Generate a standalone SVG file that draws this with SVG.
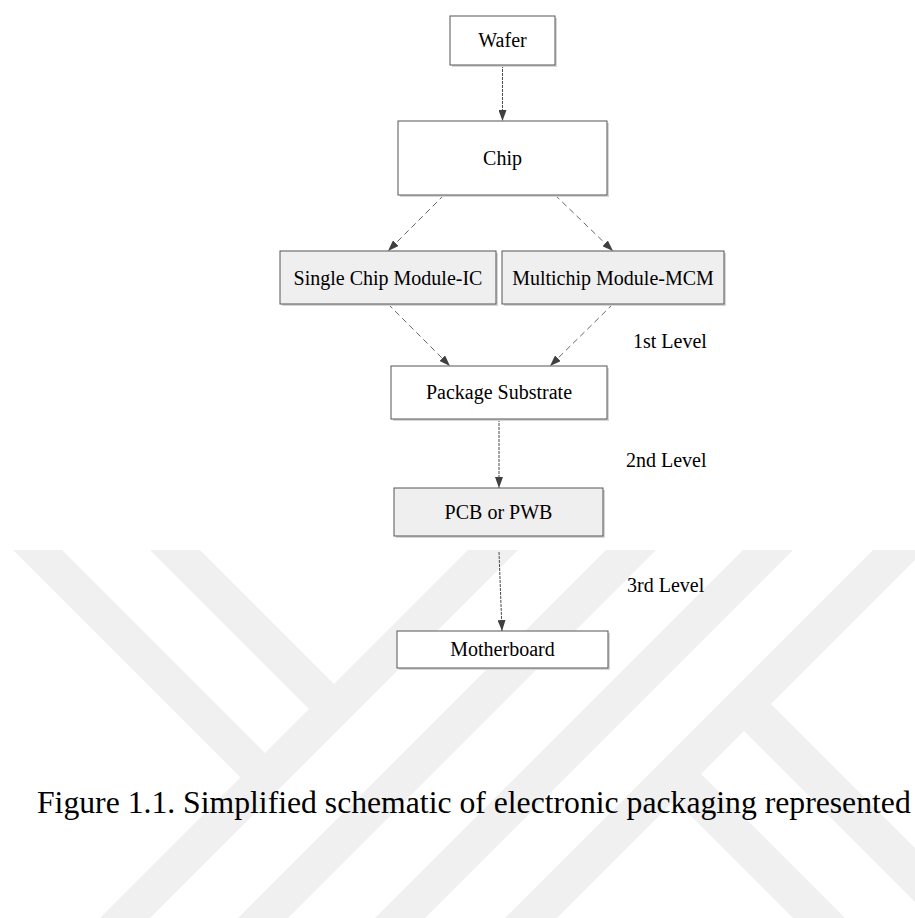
<svg xmlns="http://www.w3.org/2000/svg" width="915" height="918" viewBox="0 0 915 918">
<style>
.wm{fill:#f0f0f0}
.box{stroke:#555555;stroke-width:1}
.w{fill:#ffffff}
.g{fill:#efefef}
.sh{fill:#d6d6d6}
.t{font-family:"Liberation Serif","Times New Roman",serif;font-size:20px;fill:#000000;text-anchor:middle}
.lv{font-family:"Liberation Serif","Times New Roman",serif;font-size:20px;fill:#000000}
.cap{font-family:"Liberation Serif","Times New Roman",serif;font-size:31.7px;fill:#000000}
.c{fill:none;stroke:#4a4a4a;stroke-width:1}
.dot{stroke-dasharray:3 1}
.dash{stroke:#666666;stroke-dasharray:6 4}
</style>
<defs>
<clipPath id="wmclip"><rect x="0" y="550" width="915" height="368"/></clipPath>
<marker id="ah" viewBox="0 0 11 8" refX="11" refY="4" markerWidth="11" markerHeight="8" markerUnits="userSpaceOnUse" orient="auto"><path d="M0,0 L11,4 L0,8 Z" fill="#404040"/></marker>
</defs>
<rect x="0" y="0" width="915" height="918" fill="#ffffff"/>
<g id="watermark" clip-path="url(#wmclip)">
<polygon class="wm" points="100,918 468,550 518,550 150,918"/>
<polygon class="wm" points="238,918 606,550 656,550 288,918"/>
<polygon class="wm" points="375,918 743,550 793,550 425,918"/>
<polygon class="wm" points="505,918 873,550 925,550 557,918"/>
<polygon class="wm" points="13,550 62,550 276,764 251.5,788.5"/>
<polygon class="wm" points="150,550 200,550 345,695 320,720"/>
<polygon class="wm" points="731.5,718.5 758.5,691.5 1033.5,966.5 1006.5,993.5"/>
<polygon class="wm" points="688.5,761.5 662.5,787.5 937.5,1062.5 963.5,1036.5"/>
</g>
<g id="connectors">
<line class="c dot" x1="502.5" y1="65" x2="502.5" y2="121" marker-end="url(#ah)"/>
<line class="c dash" x1="444" y1="195" x2="388" y2="251" marker-end="url(#ah)"/>
<line class="c dash" x1="555" y1="195" x2="613" y2="251" marker-end="url(#ah)"/>
<line class="c dash" x1="388" y1="304" x2="450" y2="366" marker-end="url(#ah)"/>
<line class="c dash" x1="613" y1="304" x2="550" y2="366" marker-end="url(#ah)"/>
<line class="c dot" x1="499" y1="419" x2="499" y2="488" marker-end="url(#ah)"/>
<line class="c dot" x1="499" y1="552" x2="502" y2="631" marker-end="url(#ah)"/>
</g>
<g id="wafer">
<rect class="sh" x="452" y="18" width="105" height="49"/>
<rect class="box w" x="450" y="16" width="105" height="49"/>
<text class="t" x="502.5" y="47">Wafer</text>
</g>
<g id="chip">
<rect class="sh" x="400" y="123" width="209" height="74"/>
<rect class="box w" x="398" y="121" width="209" height="74"/>
<text class="t" x="502.5" y="165">Chip</text>
</g>
<g id="scm">
<rect class="sh" x="282" y="253" width="216" height="53"/>
<rect class="box g" x="280" y="251" width="216" height="53"/>
<text class="t" x="388" y="285">Single Chip Module-IC</text>
</g>
<g id="mcm">
<rect class="sh" x="504" y="253" width="222" height="53"/>
<rect class="box g" x="502" y="251" width="222" height="53"/>
<text class="t" x="613" y="285">Multichip Module-MCM</text>
</g>
<g id="substrate">
<rect class="sh" x="393" y="368" width="216" height="53"/>
<rect class="box w" x="391" y="366" width="216" height="53"/>
<text class="t" x="499" y="399">Package Substrate</text>
</g>
<g id="pcb">
<rect class="sh" x="396" y="490" width="209" height="48"/>
<rect class="box g" x="394" y="488" width="209" height="48"/>
<text class="t" x="498.5" y="519">PCB or PWB</text>
</g>
<g id="motherboard">
<rect class="sh" x="399" y="633" width="211" height="37"/>
<rect class="box w" x="397" y="631" width="211" height="37"/>
<text class="t" x="502.5" y="656">Motherboard</text>
</g>
<g id="labels">
<text class="lv" x="633" y="348">1st Level</text>
<text class="lv" x="626" y="467">2nd Level</text>
<text class="lv" x="627" y="592">3rd Level</text>
<text class="cap" x="37" y="813">Figure 1.1. Simplified schematic of electronic packaging represented</text>
</g>
</svg>
